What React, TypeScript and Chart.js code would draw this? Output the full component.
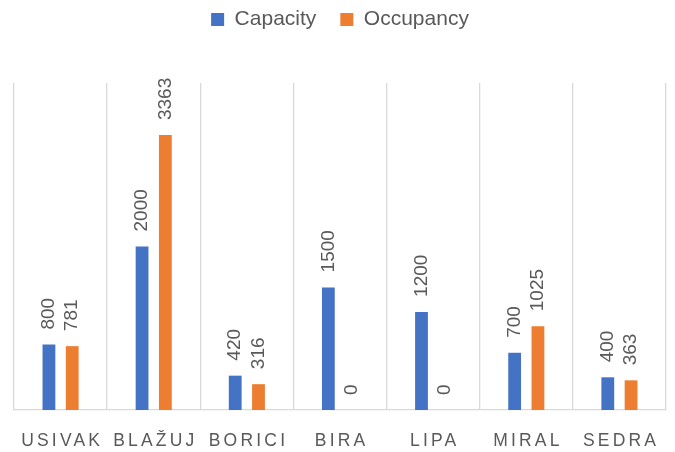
import React, { useEffect, useRef } from "react";
import { Chart, registerables } from "chart.js";

Chart.register(...registerables);

const categories = ["USIVAK", "BLAŽUJ", "BORICI", "BIRA", "LIPA", "MIRAL", "SEDRA"];
const capacity = [800, 2000, 420, 1500, 1200, 700, 400];
const occupancy = [781, 3363, 316, 0, 0, 1025, 363];
const seriesNames = ["Capacity", "Occupancy"];
const yMax = 4000;

const FONT = "'Liberation Sans', Arial, sans-serif";
const TEXT = "#595959";
const GRID = "#d9d9d9";

const legendSpacer = {
  id: "legendSpacer",
  beforeInit(chart: any) {
    const leg = chart.legend;
    if (leg) {
      const f = leg.fit;
      leg.fit = function () {
        f.call(this);
        this.height = 98;
      };
    }
  },
};

const valueLabels = {
  id: "valueLabels",
  afterDatasetsDraw(chart: any) {
    const ctx = chart.ctx;
    ctx.save();
    ctx.fillStyle = TEXT;
    ctx.font = `19px ${FONT}`;
    ctx.textAlign = "left";
    ctx.textBaseline = "middle";
    chart.data.datasets.forEach((ds: any, di: number) => {
      const meta = chart.getDatasetMeta(di);
      meta.data.forEach((el: any, i: number) => {
        ctx.save();
        ctx.translate(el.x, el.y - 15);
        ctx.rotate(-Math.PI / 2);
        ctx.fillText(String(ds.data[i]), 0, 0);
        ctx.restore();
      });
    });
    ctx.restore();
  },
};

const xLabels = {
  id: "xLabels",
  afterDraw(chart: any) {
    const ctx = chart.ctx;
    const xs = chart.scales.x;
    const spacing = 3.2;
    ctx.save();
    ctx.fillStyle = TEXT;
    ctx.font = `17.5px ${FONT}`;
    (ctx as any).letterSpacing = `${spacing}px`;
    ctx.textAlign = "center";
    ctx.textBaseline = "middle";
    categories.forEach((c, i) => {
      const x = xs.getPixelForValue(i);
      ctx.fillText(c, x + spacing / 2, chart.chartArea.bottom + 31);
    });
    ctx.restore();
  },
};

export default function App() {
  const ref = useRef<HTMLCanvasElement | null>(null);
  useEffect(() => {
    if (!ref.current) return;
    const chart = new Chart(ref.current, {
      type: "bar",
      data: {
        labels: categories,
        datasets: [
          {
            label: seriesNames[0],
            data: capacity,
            backgroundColor: "#4472C4",
            categoryPercentage: 0.5,
            barPercentage: 0.55,
          },
          {
            label: seriesNames[1],
            data: occupancy,
            backgroundColor: "#ED7D31",
            categoryPercentage: 0.5,
            barPercentage: 0.55,
          },
        ],
      },
      options: {
        animation: false,
        responsive: true,
        maintainAspectRatio: false,
        layout: { padding: { left: 14, right: 9, top: -15, bottom: 42 } },
        plugins: {
          legend: {
            position: "top",
            labels: {
              boxWidth: 13,
              boxHeight: 13,
              padding: 24,
              color: TEXT,
              font: { family: FONT, size: 21 },
            },
          },
          tooltip: { enabled: false },
        },
        scales: {
          x: {
            grid: {
              display: true,
              color: GRID,
              lineWidth: 1.3,
              offset: true,
              drawTicks: false,
            },
            border: { display: true, color: GRID, width: 1.3 },
            ticks: { display: false },
          },
          y: {
            display: false,
            min: 0,
            max: yMax,
          },
        },
      },
      plugins: [legendSpacer, valueLabels, xLabels],
    });
    return () => chart.destroy();
  }, []);
  return (
    <div style={{ position: "fixed", left: 0, top: 0, width: 675, height: 452, background: "#fff" }}>
      <canvas ref={ref} />
    </div>
  );
}
